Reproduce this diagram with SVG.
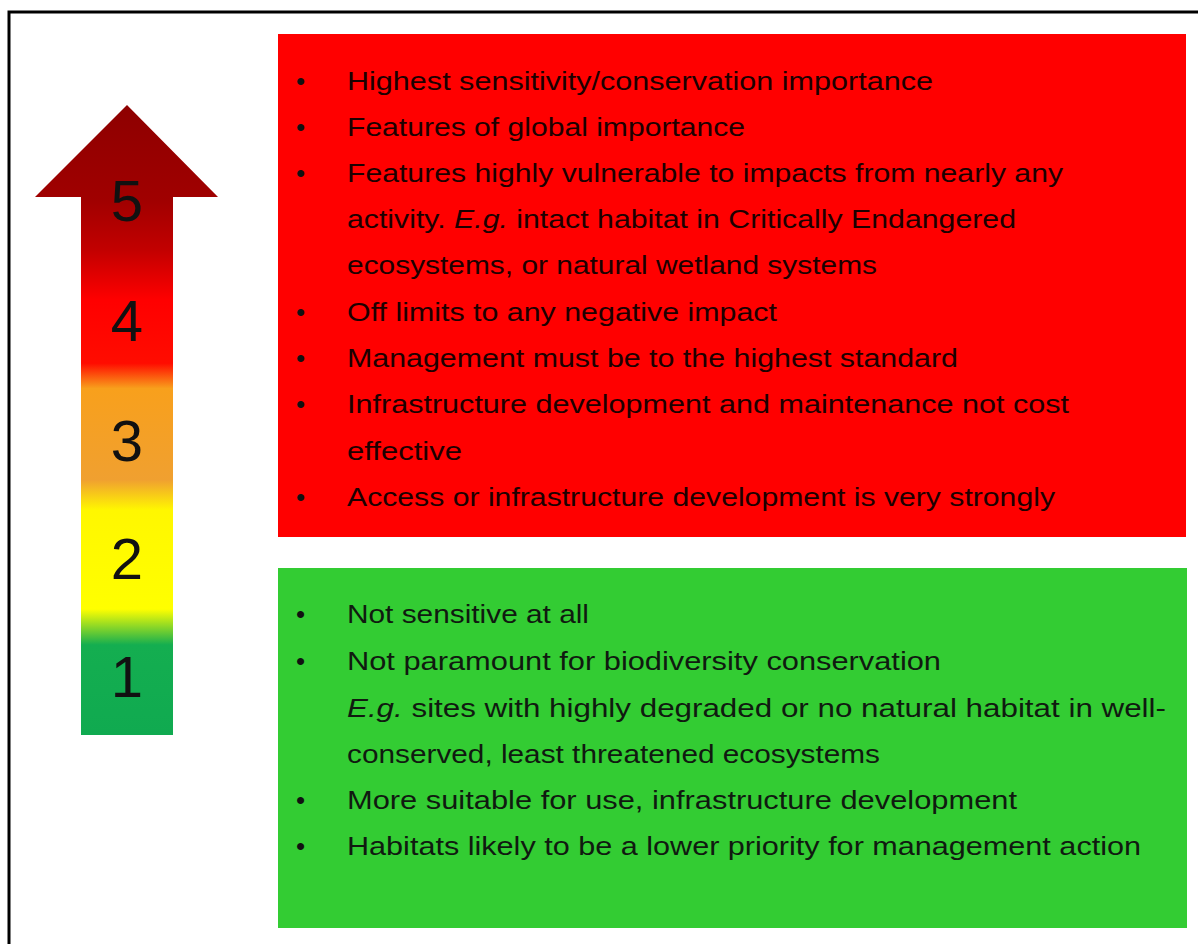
<svg xmlns="http://www.w3.org/2000/svg" width="1198" height="944" viewBox="0 0 1198 944">
<defs>
<linearGradient id="scale" gradientUnits="userSpaceOnUse" x1="0" y1="105" x2="0" y2="735">
<stop offset="0" stop-color="#8e0000"/>
<stop offset="0.151" stop-color="#a00000"/>
<stop offset="0.23" stop-color="#c20000"/>
<stop offset="0.31" stop-color="#ff0000"/>
<stop offset="0.41" stop-color="#ff0c00"/>
<stop offset="0.45" stop-color="#f8a01c"/>
<stop offset="0.595" stop-color="#f0a030"/>
<stop offset="0.643" stop-color="#fff700"/>
<stop offset="0.80" stop-color="#ffff00"/>
<stop offset="0.857" stop-color="#14ae50"/>
<stop offset="1" stop-color="#10aa50"/>
</linearGradient>
<style>
.t{font-family:"Liberation Sans",Arial,sans-serif;font-size:26px;fill:#1c0000}
.g{fill:#101a10}
.b{font-family:"Liberation Sans",Arial,sans-serif;font-size:26px;fill:#111}
.n{font-family:"Liberation Sans",Arial,sans-serif;font-size:58px;fill:#111;text-anchor:middle}
.i{font-style:italic}
</style>
</defs>
<rect width="1198" height="944" fill="#ffffff"/>
<path d="M9,944 V12 H1198" fill="none" stroke="#000" stroke-width="3"/>

<g id="arrow">
<polygon points="127,105 218,197 173,197 173,735 81,735 81,197 35,197" fill="url(#scale)"/>
<text class="n" x="127" y="221">5</text>
<text class="n" x="127" y="341">4</text>
<text class="n" x="127" y="461">3</text>
<text class="n" x="127" y="579">2</text>
<text class="n" x="127" y="697">1</text>
</g>

<g id="high-box">
<rect x="278" y="34" width="908" height="503" fill="#ff0000"/>
<text class="b" x="296" y="90">•</text>
<text class="b" x="296" y="136">•</text>
<text class="b" x="296" y="182">•</text>
<text class="b" x="296" y="321">•</text>
<text class="b" x="296" y="367">•</text>
<text class="b" x="296" y="413">•</text>
<text class="b" x="296" y="506">•</text>
<text class="t" x="347" y="90" textLength="586" lengthAdjust="spacingAndGlyphs">Highest sensitivity/conservation importance</text>
<text class="t" x="347" y="136" textLength="398" lengthAdjust="spacingAndGlyphs">Features of global importance</text>
<text class="t" x="347" y="182" textLength="716" lengthAdjust="spacingAndGlyphs">Features highly vulnerable to impacts from nearly any</text>
<text class="t" x="347" y="228" textLength="669" lengthAdjust="spacingAndGlyphs">activity. <tspan class="i">E.g.</tspan> intact habitat in Critically Endangered</text>
<text class="t" x="347" y="274" textLength="530" lengthAdjust="spacingAndGlyphs">ecosystems, or natural wetland systems</text>
<text class="t" x="347" y="321" textLength="430" lengthAdjust="spacingAndGlyphs">Off limits to any negative impact</text>
<text class="t" x="347" y="367" textLength="611" lengthAdjust="spacingAndGlyphs">Management must be to the highest standard</text>
<text class="t" x="347" y="413" textLength="722" lengthAdjust="spacingAndGlyphs">Infrastructure development and maintenance not cost</text>
<text class="t" x="347" y="460" textLength="115" lengthAdjust="spacingAndGlyphs">effective</text>
<text class="t" x="347" y="506" textLength="708" lengthAdjust="spacingAndGlyphs">Access or infrastructure development is very strongly</text>
</g>

<g id="low-box">
<rect x="278" y="568" width="909" height="360" fill="#33cc33"/>
<text class="b" x="296" y="623">•</text>
<text class="b" x="296" y="670">•</text>
<text class="b" x="296" y="809">•</text>
<text class="b" x="296" y="855">•</text>
<text class="t g" x="347" y="623" textLength="242" lengthAdjust="spacingAndGlyphs">Not sensitive at all</text>
<text class="t g" x="347" y="670" textLength="594" lengthAdjust="spacingAndGlyphs">Not paramount for biodiversity conservation</text>
<text class="t g" x="347" y="717" textLength="819" lengthAdjust="spacingAndGlyphs"><tspan class="i">E.g.</tspan> sites with highly degraded or no natural habitat in well-</text>
<text class="t g" x="347" y="763" textLength="533" lengthAdjust="spacingAndGlyphs">conserved, least threatened ecosystems</text>
<text class="t g" x="347" y="809" textLength="670" lengthAdjust="spacingAndGlyphs">More suitable for use, infrastructure development</text>
<text class="t g" x="347" y="855" textLength="794" lengthAdjust="spacingAndGlyphs">Habitats likely to be a lower priority for management action</text>
</g>
</svg>
